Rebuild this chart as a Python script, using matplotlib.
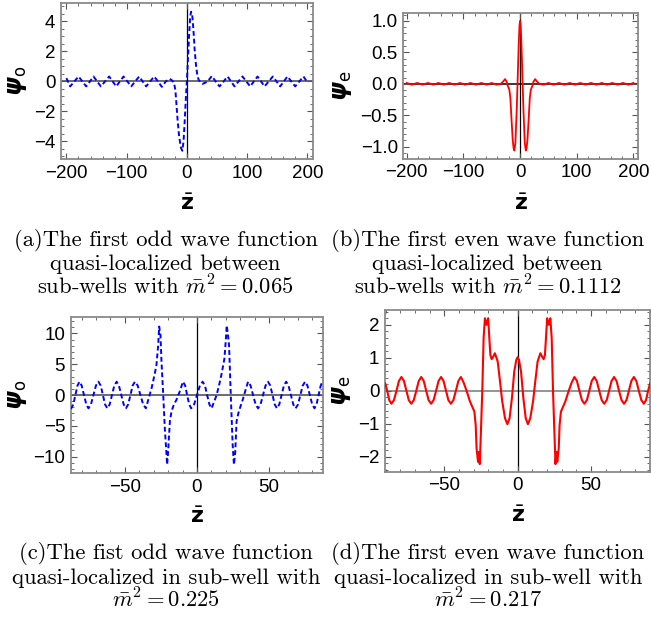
import matplotlib
matplotlib.use('Agg')
import matplotlib.pyplot as plt
from matplotlib.ticker import MultipleLocator

plt.rcParams['font.family'] = ['Liberation Sans', 'DejaVu Sans']

# (a) first odd wave function, m^2 = 0.065
za = [-200, -193.7, -186.8, -179.9, -173.5, -167.1, -161.0, -155.0, -148.9, -142.8,
      -135.9, -129.0, -123.2, -117.4, -111.3, -105.2, -98.8, -92.4, -85.8, -79.2,
      -73.4, -67.6, -61.0, -54.3, -47.9, -41.5,
      -35.0, -28.5, -24.0, -21.0, -19.0, -17.5, -15.5, -13.0, -10.0, -7.5, -5.5, -3.5,
      -1.5, 0.0, 1.5, 3.5, 5.5, 7.0, 9.0, 11.0, 13.0, 15.4, 17.5, 19.5, 22.0, 26.5, 34.5,
      41.5, 47.9, 54.3, 61.0, 67.6, 73.4, 79.2, 85.8, 92.4, 98.8, 105.2, 111.3, 117.4,
      123.2, 129.0, 135.9, 142.8, 148.9, 155.0, 161.0, 167.1, 173.5, 179.9, 186.8, 193.7, 200]
psia = [0.22, -0.33, 0, 0.33, 0, -0.33, 0, 0.33, 0, -0.33,
        0, 0.33, 0, -0.33, 0, 0.33, 0, -0.33, 0, 0.33,
        0, -0.33, 0, 0.33, 0, -0.36,
        0.0, 0.18, 0.05, -0.15, -0.6, -1.4, -2.5, -3.6, -4.4, -4.62, -4.0, -2.6,
        -1.0, 0.0, 1.2, 2.9, 4.3, 4.65, 4.4, 3.4, 2.1, 1.0, 0.4, 0.12, -0.02, -0.16, 0.0,
        0.36, 0, -0.33, 0, 0.33, 0, -0.33, 0, 0.33, 0, -0.33, 0, 0.33,
        0, -0.33, 0, 0.33, 0, -0.33, 0, 0.33, 0, -0.33, 0, 0.33, -0.05]

# (b) first even wave function, m^2 = 0.1112
zb = [-200, -191, -181.5, -172, -162.5, -153, -144, -134.5, -125, -115.5, -106, -97,
      -87.5, -78, -68.5, -59, -50, -41.5,
      -34, -30, -26.5, -23.5, -21.8, -18.9, -17.1, -15.4, -13.0, -11.5, -10.1, -8.3,
      -5.9, -4.1, -2.4, -1.0, 0, 1.0, 2.4, 4.1, 5.9, 8.3, 10.1, 11.5, 13.0, 15.4, 17.1,
      18.9, 21.8, 23.5, 26.5, 30, 34,
      41.5, 50, 59, 68.5, 78, 87.5, 97, 106, 115.5, 125, 134.5, 144, 153, 162.5, 172,
      181.5, 191, 200]
psib = [0.014, -0.014, 0.014, -0.014, 0.014, -0.014, 0.014, -0.014, 0.014, -0.014,
        0.014, -0.014, 0.014, -0.014, 0.014, -0.014, 0.014, -0.014,
        0.0, 0.035, 0.075, 0.03, -0.03, -0.095, -0.23, -0.52, -0.89, -1.02, -1.06, -0.94,
        -0.41, 0.12, 0.64, 0.93, 1.0, 0.93, 0.64, 0.12, -0.41, -0.94, -1.06, -1.02, -0.89,
        -0.52, -0.23, -0.095, -0.03, 0.03, 0.075, 0.035, 0.0,
        -0.014, 0.014, -0.014, 0.014, -0.014, 0.014, -0.014, 0.014, -0.014, 0.014,
        -0.014, 0.014, -0.014, 0.014, -0.014, 0.014, -0.014, 0.014]

# (c) first odd wave function, m^2 = 0.225
zc = [-87.5, -87.1, -85.7, -84.25, -82.8, -81.4, -79.9, -78.3, -76.7, -75.2, -73.5,
      -71.75, -70.0, -68.3, -66.7, -65.2, -63.7, -62.1, -60.5, -58.9, -57.3, -55.7,
      -54.1, -52.45, -50.8, -49.2, -47.7, -46.1, -44.6, -43.0, -41.1, -39.2, -37.3, -35.4,
      -33.8, -31.5, -29.2, -28.1, -26.9, -26.2, -25.3, -24.6, -23.4, -22.3, -21.1, -20.7,
      -20.0, -18.8, -17.7, -16.1, -14.3, -12.0, -9.7, -8.2, -6.85, -5.4, -4.0, -2.0, 0.0,
      2.0, 3.9, 5.5, 7.0, 8.6, 10.1, 12.0, 13.6, 15.5, 17.1, 19.0, 20.0, 20.6, 21.4, 22.2,
      23.4, 24.7, 25.6, 26.5, 27.4, 28.6, 29.7, 32.0, 33.6, 35.4, 37.1, 38.85, 40.6, 42.3,
      44.0, 45.75, 47.5, 49.2, 50.75, 52.3, 53.85, 55.4, 57.0, 58.6, 60.2, 61.8, 63.4,
      65.05, 66.7, 68.3, 70.0, 71.6, 73.25, 74.9, 76.5, 78.15, 79.8, 81.4, 82.8, 84.25,
      85.7, 87.1, 87.5]
psic = [-2.1, -2.16, -1.53, 0, 1.53, 2.16, 1.53, 0, -1.53, -2.16, -1.53,
        0, 1.53, 2.16, 1.53, 0, -1.53, -2.16, -1.53, 0, 1.53, 2.16,
        1.53, 0, -1.53, -2.16, -1.53, 0, 1.53, 2.16, 1.53, 0, -1.53, -2.16,
        -0.81, 1.08, 3.51, 4.86, 8.1, 11.1, 9.7, 5.4, 0, -5.4, -9.7, -11.3,
        -9.2, -4.3, -2.7, -1.6, -0.81, 0.54, 2.16, 1.53, 0, -1.53, -2.16, -1.53, 0,
        1.53, 2.16, 1.53, 0, -1.53, -2.16, -1.0, 0, 1.8, 3.5, 5.9, 9.0, 11.3, 9.8, 8.1,
        0, -8.1, -11.3, -9.2, -4.3, -3.0, -2.16, -0.54, 0.8, 2.16, 1.53, 0, -1.53, -2.16,
        -1.53, 0, 1.53, 2.16, 1.53, 0, -1.53, -2.16, -1.53, 0, 1.53, 2.16, 1.53,
        0, -1.53, -2.16, -1.53, 0, 1.53, 2.16, 1.53, 0, -1.53, -2.16, -1.53, 0,
        1.53, 2.16, 2.14]

# (d) first even wave function, m^2 = 0.217
zd = [-90.2, -88.9, -87.5, -86.0, -84.3, -82.6, -80.9, -79.2, -77.5, -75.8, -74.2,
      -72.5, -70.8, -69.1, -67.4, -65.7, -64.0, -62.3, -60.7, -59.0, -57.3, -55.6,
      -53.9, -52.2, -50.5, -48.8, -47.2, -45.5, -43.8, -42.1, -40.4, -38.7,
      -36.8, -34.8, -32.5, -29.5, -28.6, -28.0, -27.0, -26.4, -25.8, -25.0, -24.1, -23.2,
      -22.3, -21.2, -20.1, -19.3, -18.6, -17.7, -16.6, -15.5, -13.6, -12.0, -10.5, -8.6,
      -7.0, -5.5, -3.9, -2.3, -0.9, 0,
      0.9, 2.3, 3.9, 5.5, 7.0, 8.6, 10.5, 12.0, 13.6, 15.5, 16.6, 17.7, 18.6, 19.3, 20.1,
      21.2, 22.3, 23.2, 24.1, 25.0, 25.8, 26.4, 27.0, 28.0, 28.6, 29.5, 32.5, 34.8, 36.8,
      38.7, 40.4, 42.1, 43.8, 45.5, 47.2, 48.8, 50.5, 52.2, 53.9, 55.6, 57.3, 59.0, 60.7,
      62.3, 64.0, 65.7, 67.4, 69.1, 70.8, 72.5, 74.2, 75.8, 77.5, 79.2, 80.9, 82.6, 84.3,
      86.0, 87.5, 88.9, 90.2]
psid = [0.22, 0.0, -0.28, -0.39, -0.28, 0, 0.3, 0.42, 0.3, 0, -0.28,
        -0.39, -0.28, 0, 0.3, 0.42, 0.3, 0, -0.28, -0.39, -0.28, 0,
        0.3, 0.42, 0.3, 0, -0.28, -0.39, -0.28, 0, 0.3, 0.42,
        0.25, 0.0, -0.32, -0.63, -1.03, -1.74, -2.15, -1.85, -2.22, -1.2, 0.0, 1.6,
        2.2, 2.0, 2.2, 1.6, 1.09, 0.96, 1.04, 1.14, 0.89, 0.28, -0.32, -0.83,
        -1.01, -0.83, -0.22, 0.59, 0.94, 1.02,
        0.94, 0.59, -0.22, -0.83, -1.01, -0.83, -0.32, 0.28, 0.89, 1.14, 1.04, 0.96, 1.09,
        1.6, 2.2, 2.0, 2.2, 1.6, 0.0, -1.2, -2.22, -1.85, -2.15, -1.74, -1.03, -0.63,
        -0.32, 0.0, 0.25,
        0.42, 0.3, 0, -0.28, -0.39, -0.28, 0, 0.3, 0.42, 0.3, 0, -0.28, -0.39, -0.28,
        0, 0.3, 0.42, 0.3, 0, -0.28, -0.39, -0.28, 0, 0.3, 0.42, 0.3, 0, -0.28,
        -0.39, -0.28, 0.0, 0.22]

W, H = 651, 618
fig = plt.figure(figsize=(W / 100, H / 100), dpi=100)


def make_axes(l, t, r, b):
    return fig.add_axes([l / W, 1 - b / H, (r - l) / W, (b - t) / H])


def style(ax, xlim, ylim, xmaj, xmin, ymaj, ymin, sub, ylab_x, hcol):
    ax.set_xlim(*xlim)
    ax.set_ylim(*ylim)
    ax.xaxis.set_major_locator(MultipleLocator(xmaj))
    ax.xaxis.set_minor_locator(MultipleLocator(xmin))
    ax.yaxis.set_major_locator(MultipleLocator(ymaj))
    ax.yaxis.set_minor_locator(MultipleLocator(ymin))
    ax.tick_params(which='both', direction='in', top=True, right=True,
                   color='#555555', labelcolor='black', labelsize=13.5)
    ax.tick_params(which='major', length=4, width=0.8, pad=4)
    ax.tick_params(which='minor', length=2, width=0.6)
    for s in ax.spines.values():
        s.set_color('#8a8a8a')
        s.set_linewidth(1.3)
    ax.axhline(0, color=hcol, lw=1.1, zorder=1)
    ax.axvline(0, color='black', lw=0.9, zorder=1)
    ax.set_ylabel(r'$\mathbfit{\psi}_{\mathrm{%s}}$' % sub, math_fontfamily='dejavusans',
                  fontsize=17, rotation=90, va='center')
    ax.yaxis.set_label_coords(ylab_x, 0.5)
    ax.set_xlabel(r'$\bar{\mathbf{z}}$', math_fontfamily='dejavusans', fontsize=16, va='center')


# (a)
ax = make_axes(61, 3, 313, 159)
ax.plot(za, psia, color='#0000ff', lw=1.4, ls=(0, (2.5, 1.5)), zorder=3)
style(ax, (-209, 209.5), (-5.17, 5.23), 100, 20, 2, 0.5, 'o', -0.173, '#444444')
ax.xaxis.set_label_coords(0.5, -46 / 156)

# (b)
ax = make_axes(403.3, 12.7, 638, 158.7)
ax.plot(zb, psib, color='#ff0000', lw=1.3, zorder=3)
style(ax, (-206, 208), (-1.19, 1.13), 100, 20, 0.5, 0.1, 'e', -0.26, 'black')
ax.xaxis.set_label_coords(0.5, -46 / 146)

# (c)
ax = make_axes(70.7, 316.7, 323.3, 473.3)
ax.plot(zc, psic, color='#0000ff', lw=1.4, ls=(0, (2.5, 1.5)), zorder=3)
style(ax, (-87.5, 87.5), (-12.7, 12.7), 50, 10, 5, 1, 'o', -0.21, '#444444')
ax.xaxis.set_label_coords(0.5, -44 / 156.6)

# (d)
ax = make_axes(385, 310, 650, 471.7)
ax.plot(zd, psid, color='#ff0000', lw=1.5, zorder=3)
style(ax, (-90.4, 90.2), (-2.45, 2.45), 50, 10, 1, 0.2, 'e', -0.166, '#777777')
ax.xaxis.set_label_coords(0.5, -45 / 161.7)

captions = [
    (165.5, 245.5, ['(a)The first odd wave function', 'quasi-localized between',
                    r'sub-wells with $\bar{m}^2 = 0.065$']),
    (487.5, 245.5, ['(b)The first even wave function', 'quasi-localized between',
                    r'sub-wells with $\bar{m}^2 = 0.1112$']),
    (166, 559, ['(c)The fist odd wave function', 'quasi-localized in sub-well with',
                r'$\bar{m}^2 = 0.225$']),
    (488, 559, ['(d)The first even wave function', 'quasi-localized in sub-well with',
                r'$\bar{m}^2 = 0.217$']),
]
for cx, cy, lines in captions:
    for i, line in enumerate(lines):
        fig.text(cx / W, 1 - (cy + 24.5 * i) / H, line, ha='center', va='baseline',
                 family='cmr10', fontsize=16.3, math_fontfamily='cm')

fig.savefig('out.png', dpi=100)
